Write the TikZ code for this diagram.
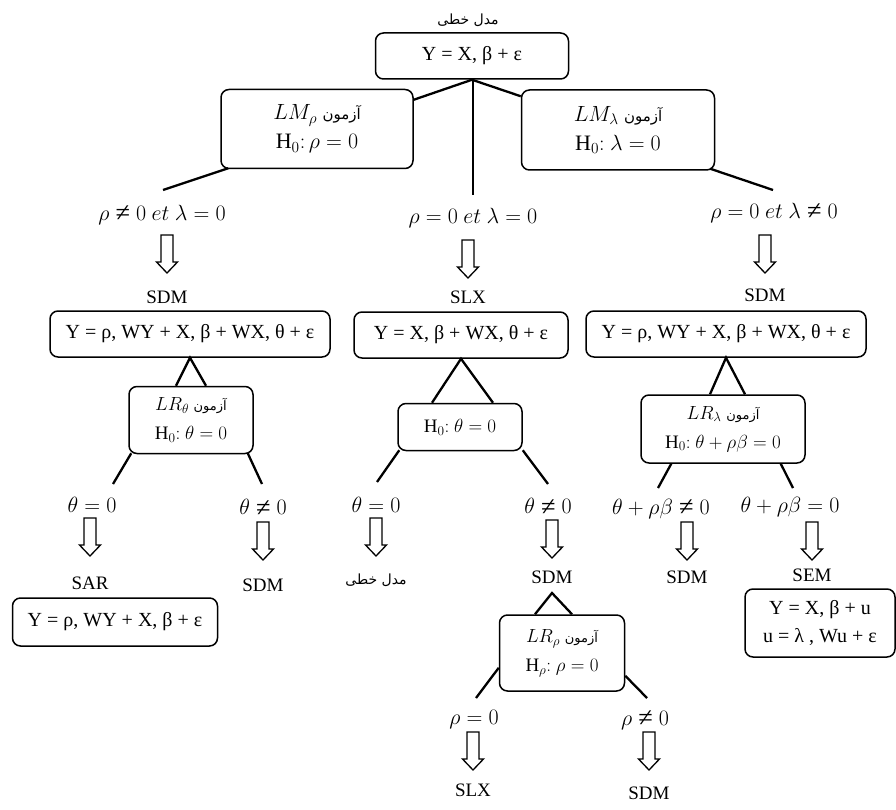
\RequirePackage{fix-cm}
\documentclass[tikz,border=0pt]{standalone}
\usepackage{fontspec}
\setmainfont{Liberation Serif}
\newfontfamily\fa[Script=Arabic]{DejaVu Sans}
\TeXXeTstate=1
\usetikzlibrary{calc}
\newcommand\fsz[2]{\fontsize{#1}{#2}\selectfont}
\newcommand\azm[1]{{\fa\fsz{#1}{16}آزمون}}
\newcommand\nq{\mathrel{\raisebox{-1.3pt}{\scalebox{1.2}{≠}}}}
\begin{document}
\begin{tikzpicture}[x=1pt,y=-1pt,
 box/.style={draw, line width=1.5pt, rounded corners=8pt, inner sep=2pt, align=center, font=\fsz{20}{28}},
 mbox/.style={box, font=\fsz{22}{29}},
 sbox/.style={box, font=\fsz{19}{29}},
 conn/.style={line width=2.3pt},
 lab/.style={inner sep=0pt, font=\fsz{22}{25}},
 mdl/.style={inner sep=0pt, font=\fsz{19}{23}},
 fatxt/.style={inner sep=0pt, font=\fa\fsz{14}{16}},
 hollow/.style={draw, line width=1.3pt, line join=miter, to path={
   let \p1=(\tikztostart), \p2=(\tikztotarget) in
   (\x2-6pt,\y1-#1) -- (\x2+6pt,\y1-#1) -- (\x2+6pt,\y1-#1-27pt) -- (\x2+10.5pt,\y1-#1-27pt)
   -- (\x2,\y1-#1-38pt) -- (\x2-10.5pt,\y1-#1-27pt) -- (\x2-6pt,\y1-#1-27pt) -- cycle}}
]
\path[use as bounding box, fill=white] (0,0) rectangle (896,810);

% top
\node[fatxt] (title) at (468,20) {\beginR مدل خطی\endR};
\node[box, minimum width=193pt, minimum height=46pt] (top) at (472,56) {Y = X, β + ε};
\node[mbox, minimum width=192pt, minimum height=79pt] (lmr) at (317,129)
  {$LM_\rho$ \azm{15}\\ $\mathrm{H}_0{:}\,\rho = 0$};
\node[mbox, minimum width=193pt, minimum height=80pt] (lml) at (618,130)
  {$LM_\lambda$ \azm{15}\\ $\mathrm{H}_0{:}\ \lambda = 0$};

% first branch labels
\node[lab] (l1) at (162,215) {$\rho \nq 0\ et\ \lambda = 0$};
\node[lab] (l2) at (473,218) {$\rho = 0\ et\ \lambda = 0$};
\node[lab] (l3) at (774,213) {$\rho = 0\ et\ \lambda \nq 0$};
\coordinate (e1) at (163,190);
\coordinate (e2) at (473,195);
\coordinate (e3) at (773,190);

% second row
\node[mdl] (sdmL) at (167,297) {SDM};
\node[mdl] (slx) at (468,297) {SLX};
\node[mdl] (sdmR) at (765,295) {SDM};
\node[box, minimum width=280pt, minimum height=46pt] (bl) at (190,334) {Y = ρ, WY + X, β + WX, θ + ε};
\node[box, minimum width=214pt, minimum height=46pt] (bm) at (461,335) {Y = X, β + WX, θ + ε};
\node[box, minimum width=280pt, minimum height=46pt] (br) at (726,334) {Y = ρ, WY + X, β + WX, θ + ε};

% tests
\node[sbox, minimum width=124pt, minimum height=67pt] (lrt) at (191,420)
  {$LR_\theta$ \azm{13}\\ $\mathrm{H}_0{:}\ \theta = 0$};
\node[sbox, minimum width=124pt, minimum height=47pt] (h0) at (460,427)
  {$\mathrm{H}_0{:}\ \theta = 0$};
\node[sbox, minimum width=164pt, minimum height=68pt] (lrl) at (723,429)
  {$LR_\lambda$ \azm{13}\\ $\mathrm{H}_0{:}\ \theta + \rho\beta = 0$};

% third row labels
\node[lab] (t1) at (92,505) {$\theta = 0$};
\node[lab] (t2) at (263,508) {$\theta \nq 0$};
\node[lab] (t3) at (376,505) {$\theta = 0$};
\node[lab] (t4) at (548,507) {$\theta \nq 0$};
\node[lab] (t5) at (661,509) {$\theta + \rho\beta \nq 0$};
\node[lab] (t6) at (790,507) {$\theta + \rho\beta = 0$};
\coordinate (f1) at (113,484);
\coordinate (f2) at (262,484);
\coordinate (f3) at (377,482);
\coordinate (f4) at (548,484);
\coordinate (f5) at (658,488);
\coordinate (f6) at (793,488);

% results
\node[mdl] (sar) at (90,583) {SAR};
\node[mdl] (sdm2) at (263,585) {SDM};
\node[fatxt] (lin2) at (376,580) {\beginR مدل خطی\endR};
\node[mdl] (sdm3) at (552,577) {SDM};
\node[mdl] (sdm4) at (687,577) {SDM};
\node[mdl] (sem) at (812,575) {SEM};
\node[box, minimum width=205pt, minimum height=48pt] (sarbox) at (115,622) {Y = ρ, WY + X, β + ε};
\node[box, minimum width=150pt, minimum height=68pt] (sembox) at (820,623) {Y = X, β + u\\ u = λ , Wu + ε};
\coordinate (ap) at (552,593);
\node[sbox, minimum width=125pt, minimum height=76pt] (lrr) at (562,653)
  {$LR_\rho$ \azm{13}\\ $\mathrm{H}_\rho{:}\ \rho = 0$};
\node[lab] (r1) at (474,720) {$\rho = 0$};
\node[lab] (r2) at (645,720) {$\rho \nq 0$};
\coordinate (g1) at (476,698);
\coordinate (g2) at (647,698);
\node[mdl] (slx2) at (473,790) {SLX};
\node[mdl] (sdm5) at (649,793) {SDM};

% connectors
\draw[conn] (top.south) -- ([yshift=-11pt]lmr.north east);
\draw[conn] (top.south) -- ([yshift=-7pt]lml.north west);
\draw[conn] ([xshift=1pt]top.south) -- (e2);
\draw[conn] ([xshift=8pt,yshift=1pt]lmr.south west) -- (e1);
\draw[conn] ([xshift=-5pt,yshift=2pt]lml.south east) -- (e3);

\draw[conn] ([xshift=-15pt]lrt.north) -- (bl.south) -- ([xshift=15pt]lrt.north);
\draw[conn] ([xshift=-28pt]h0.north) -- (bm.south) -- ([xshift=33pt]h0.north);
\draw[conn] ([xshift=-13pt]lrl.north) -- (br.south) -- ([xshift=22pt]lrl.north);

\draw[conn] ([xshift=3pt,yshift=1pt]lrt.south west) -- (f1);
\draw[conn] ([xshift=-6pt,yshift=1pt]lrt.south east) -- (f2);
\draw[conn] ([xshift=2pt,yshift=1pt]h0.south west) -- (f3);
\draw[conn] ([yshift=1pt]h0.south east) -- (f4);
\draw[conn] ([xshift=31pt]lrl.south west) -- (f5);
\draw[conn] ([xshift=-25pt]lrl.south east) -- (f6);

\draw[conn] ([xshift=-27pt]lrr.north) -- (ap) -- ([xshift=10pt]lrr.north);
\draw[conn] ([yshift=24pt]lrr.south west) -- (g1);
\draw[conn] ([yshift=16pt]lrr.south east) -- (g2);

% hollow arrows
\draw[hollow=20pt] (l1) to (sdmL);
\draw[hollow=22pt] (l2) to (slx);
\draw[hollow=22pt] (l3) to (sdmR);
\draw[hollow=13pt] (t1) to (sar);
\draw[hollow=14pt] (t2) to (sdm2);
\draw[hollow=13pt] (t3) to (lin2);
\draw[hollow=13pt] (t4) to (sdm3);
\draw[hollow=13pt] (t5) to (sdm4);
\draw[hollow=15pt] (t6) to (sem);
\draw[hollow=12pt] (r1) to (slx2);
\draw[hollow=12pt] (r2) to (sdm5);
\end{tikzpicture}
\end{document}
